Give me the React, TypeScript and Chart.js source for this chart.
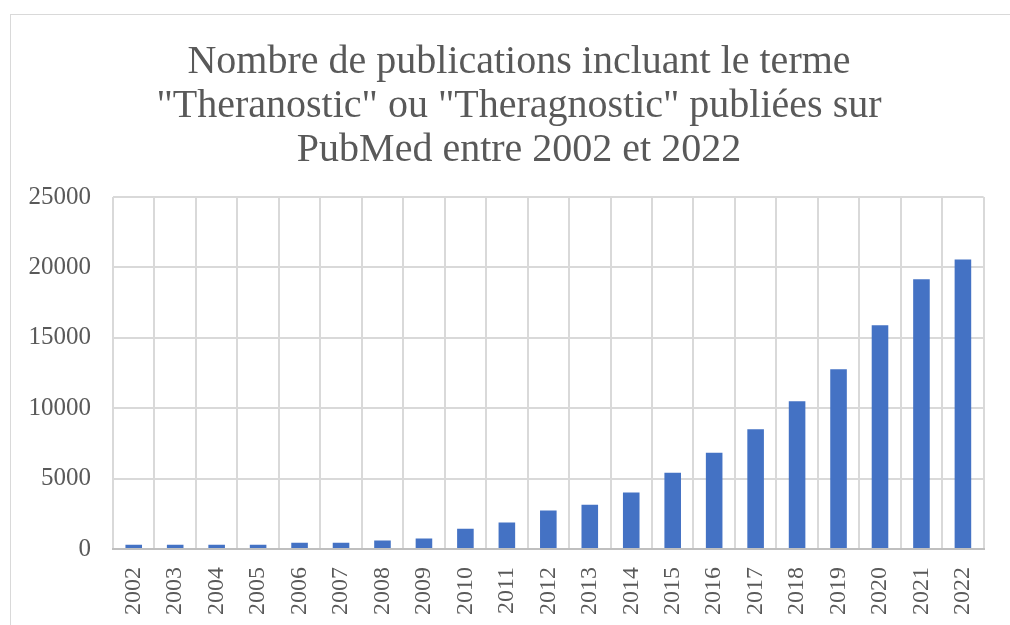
import React, { useEffect, useRef } from "react";
import { Chart, registerables } from "chart.js";

Chart.register(...registerables);

const years = ["2002","2003","2004","2005","2006","2007","2008","2009","2010","2011","2012","2013","2014","2015","2016","2017","2018","2019","2020","2021","2022"];
const publications = [300, 300, 300, 300, 440, 440, 610, 750, 1440, 1890, 2740, 3150, 4020, 5420, 6840, 8510, 10500, 12770, 15900, 19160, 20560];
const titleLines = [
  "Nombre de publications incluant le terme",
  "\"Theranostic\" ou \"Theragnostic\" publiées sur",
  "PubMed entre 2002 et 2022",
];
const yTicks = [0, 5000, 10000, 15000, 20000, 25000];

const TEXT = "#595959";
const GRID = "#d9d9d9";
const SERIF = "'Liberation Serif', 'DejaVu Serif', serif";

const decor = {
  id: "decor",
  beforeDraw(chart: any) {
    const ctx = chart.ctx;
    ctx.save();
    ctx.fillStyle = "#ffffff";
    ctx.fillRect(0, 0, chart.width, chart.height);
    ctx.strokeStyle = GRID;
    ctx.lineWidth = 1;
    ctx.strokeRect(10.5, 14.5, 1200, 800);
    ctx.restore();
  },
  afterDraw(chart: any) {
    const ctx = chart.ctx;
    ctx.save();
    ctx.fillStyle = TEXT;
    ctx.font = `40px ${SERIF}`;
    ctx.textAlign = "center";
    ctx.textBaseline = "alphabetic";
    const baselines = [73, 117, 161];
    titleLines.forEach((t, i) => ctx.fillText(t, 519, baselines[i]));
    ctx.restore();
  },
};

export default function App() {
  const ref = useRef<HTMLCanvasElement | null>(null);
  useEffect(() => {
    if (!ref.current) return;
    const chart = new Chart(ref.current, {
      type: "bar",
      data: {
        labels: years,
        datasets: [
          {
            data: publications,
            backgroundColor: "#4472C4",
            barPercentage: 0.4,
            categoryPercentage: 1,
          },
        ],
      },
      options: {
        responsive: false,
        animation: false,
        layout: { padding: { top: 197, left: 0, right: 12, bottom: 0 } },
        plugins: {
          legend: { display: false },
          title: { display: false },
          tooltip: { enabled: false },
        },
        scales: {
          x: {
            grid: { color: GRID, lineWidth: 2, drawTicks: false, offset: true },
            border: { color: "#bfbfbf", width: 2 },
            ticks: {
              color: TEXT,
              font: { family: SERIF, size: 24 },
              minRotation: 90,
              maxRotation: 90,
              autoSkip: false,
              padding: 18,
            },
            afterFit: (s: any) => { s.height = 76; },
          },
          y: {
            min: 0,
            max: 25000,
            afterBuildTicks: (s: any) => { s.ticks = yTicks.map((v) => ({ value: v })); },
            grid: { color: GRID, lineWidth: 2, drawTicks: false },
            border: { display: false },
            ticks: {
              color: TEXT,
              font: { family: SERIF, size: 25 },
              padding: 22,
              callback: (v: any) => String(v),
            },
            afterFit: (s: any) => { s.width = 113; },
          },
        },
      },
      plugins: [decor],
    });
    return () => chart.destroy();
  }, []);
  return (
    <div style={{ position: "fixed", left: 0, top: 0, width: 1010, height: 625, overflow: "hidden", background: "#fff" }}>
      <canvas ref={ref} width={1010} height={625} style={{ display: "block", width: 1010, height: 625 }} />
    </div>
  );
}
